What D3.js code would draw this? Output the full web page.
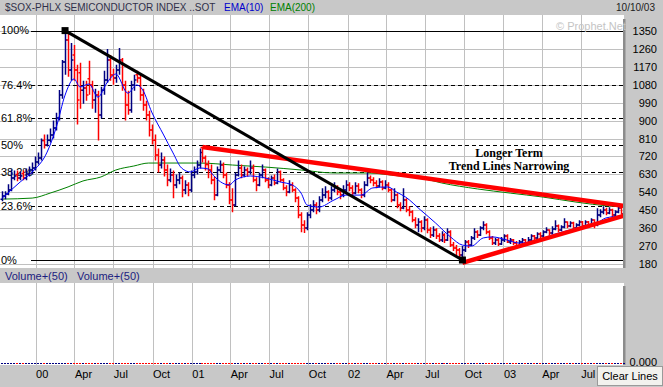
<!DOCTYPE html>
<html>
<head>
<meta charset="utf-8">
<script src="https://cdn.jsdelivr.net/npm/d3@7"></script>
<style>
  body { margin: 0; background: #c8c8c8; }
  svg { display: block; font-family: Arial, "Liberation Sans", sans-serif; }
</style>
</head>
<body>
<svg width="663" height="387"></svg>
<script>
// weekly bars, one per friday from 15 Oct 1999 to 10 Oct 2003
const weekOpen = [
  505, 521, 531, 551, 612, 630, 612, 635, 612, 632,
  652, 662, 692, 712, 800, 777, 802, 828, 863, 913,
  1028, 1194, 1305, 1154, 1230, 1154, 1140, 1053, 1064, 1110,
  1079, 1003, 1028, 928, 1053, 1104, 1204, 1129, 1114, 1154,
  1204, 1079, 978, 953, 1079, 1130, 1114, 1028, 978, 928,
  853, 802, 727, 677, 702, 652, 602, 627, 577, 602,
  612, 551, 577, 551, 627, 642, 677, 765, 712, 680,
  652, 602, 526, 652, 677, 627, 577, 501, 476, 627,
  662, 627, 652, 642, 662, 602, 577, 627, 652, 602,
  577, 612, 587, 642, 602, 562, 541, 577, 551, 511,
  426, 376, 361, 426, 451, 476, 451, 501, 526, 541,
  511, 551, 562, 541, 526, 551, 577, 562, 536, 572,
  551, 526, 577, 612, 602, 587, 572, 592, 562, 577,
  551, 501, 526, 476, 461, 501, 451, 441, 401, 376,
  391, 361, 401, 351, 326, 351, 321, 300, 326, 300,
  341, 275, 260, 250, 225, 250, 290, 275, 311, 341,
  326, 361, 376, 341, 311, 285, 300, 280, 300, 321,
  290, 300, 285, 270, 290, 300, 280, 300, 321, 311,
  331, 321, 341, 351, 336, 356, 371, 351, 366, 391,
  371, 386, 361, 376, 391, 371, 391, 376, 401, 375,
  426, 441, 451, 436, 451, 426, 441, 461, 431
];
const weekHigh = [
  545, 545, 580, 655, 650, 650, 645, 650, 660, 670,
  690, 720, 740, 810, 830, 830, 860, 900, 940, 1054,
  1204, 1355, 1345, 1290, 1280, 1180, 1190, 1100, 1100, 1200,
  1100, 1060, 1050, 1070, 1150, 1260, 1230, 1160, 1180, 1265,
  1215, 1100, 1050, 1100, 1130, 1150, 1130, 1060, 1000, 950,
  880, 830, 760, 740, 720, 680, 660, 650, 630, 640,
  625, 600, 590, 650, 670, 700, 760, 770, 725, 700,
  680, 620, 670, 700, 690, 640, 590, 560, 640, 700,
  680, 670, 665, 700, 680, 615, 640, 680, 660, 615,
  625, 630, 660, 650, 610, 575, 600, 590, 560, 520,
  440, 400, 440, 480, 500, 490, 520, 560, 570, 550,
  570, 590, 575, 555, 575, 600, 590, 575, 590, 585,
  560, 595, 640, 625, 615, 600, 610, 600, 600, 590,
  560, 560, 535, 490, 560, 510, 470, 450, 415, 410,
  400, 420, 410, 365, 370, 360, 335, 345, 335, 360,
  350, 290, 275, 260, 270, 300, 300, 320, 360, 350,
  370, 395, 385, 350, 320, 310, 310, 315, 330, 330,
  310, 305, 295, 300, 310, 305, 315, 330, 325, 340,
  340, 350, 365, 355, 370, 400, 378, 375, 410, 395,
  395, 392, 385, 400, 396, 400, 396, 410, 405, 460,
  455, 470, 462, 465, 458, 450, 470, 466, 460
];
const weekLow = [
  495, 505, 525, 545, 600, 595, 600, 600, 600, 620,
  630, 650, 680, 700, 760, 770, 790, 810, 850, 900,
  1010, 1130, 1120, 1100, 1100, 880, 960, 985, 1000, 1030,
  960, 940, 800, 910, 1030, 1090, 1100, 1080, 1090, 1130,
  1050, 900, 930, 940, 1050, 1090, 1000, 950, 900, 820,
  780, 700, 640, 660, 620, 570, 590, 510, 560, 580,
  515, 530, 520, 540, 610, 630, 660, 690, 650, 610,
  580, 500, 520, 640, 610, 560, 480, 440, 470, 620,
  610, 615, 620, 630, 590, 545, 570, 610, 590, 560,
  570, 575, 580, 590, 550, 520, 535, 540, 490, 410,
  340, 336, 350, 410, 440, 430, 440, 490, 510, 495,
  500, 540, 525, 505, 515, 540, 545, 520, 530, 535,
  510, 515, 570, 585, 570, 560, 565, 550, 555, 540,
  490, 495, 460, 445, 455, 440, 420, 390, 360, 340,
  340, 350, 335, 310, 315, 305, 290, 290, 285, 295,
  265, 245, 225, 205, 200, 240, 260, 270, 300, 310,
  320, 350, 330, 300, 275, 275, 270, 275, 290, 285,
  280, 275, 260, 265, 280, 272, 275, 295, 300, 305,
  310, 315, 335, 325, 330, 350, 340, 345, 360, 360,
  365, 350, 355, 370, 362, 365, 368, 372, 360, 370,
  415, 430, 425, 430, 415, 420, 435, 430, 425
];
const weekClose = [
  521, 531, 551, 612, 622, 612, 622, 612, 632, 652,
  662, 692, 712, 800, 777, 802, 828, 863, 913, 1028,
  1194, 1305, 1154, 1204, 1154, 1003, 1053, 1064, 1028, 1079,
  1003, 1028, 928, 1053, 1104, 1204, 1129, 1114, 1154, 1204,
  1079, 978, 953, 1079, 1104, 1114, 1028, 978, 928, 853,
  802, 727, 677, 702, 652, 602, 627, 577, 602, 612,
  551, 577, 551, 627, 642, 677, 740, 712, 680, 652,
  602, 526, 652, 677, 627, 577, 501, 476, 627, 662,
  627, 652, 642, 662, 602, 577, 627, 652, 602, 577,
  612, 587, 642, 602, 562, 541, 577, 551, 511, 426,
  376, 361, 426, 451, 476, 451, 501, 526, 541, 511,
  551, 562, 541, 526, 551, 577, 562, 536, 572, 551,
  526, 577, 612, 602, 587, 572, 592, 562, 577, 551,
  501, 526, 476, 461, 501, 451, 441, 401, 376, 391,
  361, 401, 351, 326, 351, 321, 300, 326, 300, 341,
  275, 260, 250, 225, 250, 290, 275, 311, 341, 326,
  361, 376, 341, 311, 285, 300, 280, 300, 321, 290,
  300, 285, 270, 290, 300, 280, 300, 321, 311, 331,
  321, 341, 351, 336, 356, 371, 351, 366, 391, 371,
  386, 361, 376, 391, 371, 391, 376, 401, 375, 426,
  441, 451, 436, 451, 426, 441, 461, 431, 451
];

// moving averages (week index -> value)
const ema10Week = [0, 6, 10, 15, 18, 21, 24, 26, 29, 32, 35, 38, 42, 45, 47, 50, 54, 57, 60, 63,
  66, 69, 70, 76, 78, 83, 88, 93, 97, 100, 102, 106, 111, 115, 120, 124, 129, 132, 135, 140,
  145, 150, 154, 157, 161, 164, 169, 173, 179, 184, 190, 196, 199, 202, 207];
const ema10Value = [511, 592, 642, 742, 863, 1028, 1109, 1069, 1084, 1018, 1089, 1134, 1038, 1079, 1054, 943, 828, 742, 662, 642,
  662, 657, 637, 577, 602, 622, 612, 592, 577, 536, 476, 466, 501, 526, 526, 562, 567, 541, 516, 451,
  386, 316, 275, 270, 311, 316, 300, 285, 300, 326, 351, 376, 386, 411, 421];
const ema200Week = [0, 10, 16, 22, 27, 33, 38, 44, 49, 66, 77, 88, 100, 111, 122, 133, 140, 147, 159, 170, 181, 192, 203, 208];
const ema200Value = [506, 511, 536, 567, 597, 617, 652, 672, 687, 687, 677, 667, 652, 637, 637, 622, 612, 587, 557, 536, 516, 491, 471, 466];

const priceTicks = [180, 270, 360, 450, 540, 630, 720, 810, 900, 990, 1080, 1170, 1260, 1350];
const fibLabels = ['100%', '76.4%', '61.8%', '50%', '38.2%', '23.6%', '0%'];
const fibPrices = [1352, 1080, 912, 776, 640, 472, 200];

// trend lines drawn on the chart: [week index, price]
const trendBlack = [[21, 1352], [154, 200]];
const trendTop = [[67, 767], [208, 472]];
const trendBottom = [[154, 186], [208, 422]];

const svg = d3.select('svg');
const weeks = d3.timeFriday.range(new Date(1999, 9, 15), new Date(2003, 9, 11));
const x = d3.scaleTime().domain([new Date(2000, 0, 1), new Date(2003, 0, 1)]).range([35.6, 503.4]);
const y = d3.scaleLinear().domain([180, 1350]).range([264, 31]);
const px = function (i) { return x(weeks[i]); };
const quarters = d3.timeMonth.every(3).range(new Date(2000, 0, 1), new Date(2003, 9, 1));

const bars = weeks.map(function (d, i) {
  return { i: i, o: weekOpen[i], h: weekHigh[i], l: weekLow[i], c: weekClose[i] };
});

// panels
svg.append('rect').attr('x', 0).attr('y', 15).attr('width', 624).attr('height', 253).attr('fill', '#fff');
svg.append('rect').attr('x', 0).attr('y', 283).attr('width', 624).attr('height', 82).attr('fill', '#fff');
svg.append('rect').attr('x', 623).attr('y', 19).attr('width', 2.5).attr('height', 249).attr('fill', '#8c8c8c');
svg.append('rect').attr('x', 623).attr('y', 286).attr('width', 2.5).attr('height', 79).attr('fill', '#8c8c8c');

svg.append('defs').append('clipPath').attr('id', 'clip')
  .append('rect').attr('x', 0).attr('y', 15).attr('width', 623).attr('height', 253);

const grid = svg.append('g').attr('stroke', '#c0c0c0').attr('shape-rendering', 'crispEdges');
grid.selectAll('.hgrid').data(priceTicks).enter().append('line')
  .attr('x1', 0).attr('x2', 623)
  .attr('y1', function (d) { return Math.round(y(d)) + 0.5; })
  .attr('y2', function (d) { return Math.round(y(d)) + 0.5; });
grid.selectAll('.vgrid').data(quarters).enter().append('line')
  .attr('x1', function (d) { return Math.round(x(d)) + 0.5; })
  .attr('x2', function (d) { return Math.round(x(d)) + 0.5; })
  .attr('y1', 15).attr('y2', 268);
grid.selectAll('.vgrid2').data(quarters).enter().append('line')
  .attr('x1', function (d) { return Math.round(x(d)) + 0.5; })
  .attr('x2', function (d) { return Math.round(x(d)) + 0.5; })
  .attr('y1', 283).attr('y2', 365);

// retracement levels
svg.append('g').selectAll('line').data(fibPrices).enter().append('line')
  .attr('x1', 31).attr('x2', 623)
  .attr('y1', function (d) { return Math.round(y(d)) + 0.5; })
  .attr('y2', function (d) { return Math.round(y(d)) + 0.5; })
  .attr('stroke', '#000')
  .attr('shape-rendering', 'crispEdges')
  .attr('stroke-dasharray', function (d, i) { return (i === 0 || i === fibPrices.length - 1) ? null : '4,3'; });
svg.append('g').selectAll('text').data(fibLabels).enter().append('text')
  .attr('x', 1)
  .attr('y', function (d, i) { return y(fibPrices[i]); })
  .attr('dy', '0.35em')
  .attr('font-size', 11)
  .attr('fill', '#000')
  .text(function (d) { return d; });

const plot = svg.append('g').attr('clip-path', 'url(#clip)');

// moving averages
const line = d3.line()
  .x(function (d) { return px(d[0]); })
  .y(function (d) { return y(d[1]); })
  .curve(d3.curveMonotoneX);
plot.append('path')
  .attr('d', line(ema200Week.map(function (w, k) { return [w, ema200Value[k]]; })))
  .attr('fill', 'none').attr('stroke', '#008000').attr('stroke-width', 1);

// OHLC bars
plot.selectAll('.bar').data(bars).enter().append('path')
  .attr('class', 'bar')
  .attr('d', function (d) {
    const cx = Math.round(px(d.i)) + 0.5;
    return 'M' + cx + ',' + y(d.h) + 'V' + y(d.l) +
      'M' + (cx - 2) + ',' + y(d.o) + 'H' + cx +
      'M' + cx + ',' + y(d.c) + 'H' + (cx + 2);
  })
  .attr('fill', 'none')
  .attr('stroke-width', 1.5)
  .attr('stroke', function (d) { return d.c >= d.o ? '#000080' : '#ff0000'; });

plot.append('path')
  .attr('d', line(ema10Week.map(function (w, k) { return [w, ema10Value[k]]; })))
  .attr('fill', 'none').attr('stroke', '#0000ff').attr('stroke-width', 1);

// trend lines
function trend (pts, color, width) {
  plot.append('line')
    .attr('x1', px(pts[0][0])).attr('y1', y(pts[0][1]))
    .attr('x2', px(pts[1][0])).attr('y2', y(pts[1][1]))
    .attr('stroke', color).attr('stroke-width', width);
}
trend(trendTop, '#ff0000', 4.5);
trend(trendBottom, '#ff0000', 4.5);
trend(trendBlack, '#000', 3);
plot.selectAll('.marker').data(trendBlack).enter().append('rect')
  .attr('x', function (d) { return px(d[0]) - 3.5; })
  .attr('y', function (d) { return y(d[1]) - 3.5; })
  .attr('width', 7).attr('height', 7).attr('fill', '#000');

// note
const note = svg.append('g')
  .attr('font-family', '"Liberation Serif", "Times New Roman", serif')
  .attr('font-weight', 'bold').attr('font-size', 12)
  .attr('text-anchor', 'middle');
note.append('text').attr('x', 509).attr('y', 157).text('Longer Term');
note.append('text').attr('x', 509).attr('y', 170).text('Trend Lines Narrowing');

svg.append('text').attr('x', 556).attr('y', 30).attr('font-size', 11)
  .attr('fill', '#c4c4c4').text('\u00a9 Prophet.Net');

// volume panel: index has no volume, only a baseline of dots
svg.append('g').selectAll('rect').data(bars).enter().append('rect')
  .attr('x', function (d) { return Math.round(px(d.i)) - 1; })
  .attr('y', 363).attr('width', 2).attr('height', 1)
  .attr('fill', function (d) { return d.c >= d.o ? '#000080' : '#ff0000'; });

// header
const head = svg.append('g').attr('font-size', 10);
head.append('text').attr('x', 5).attr('y', 11).attr('fill', '#30304a').text('$SOX-PHLX SEMICONDUCTOR INDEX ..SOT');
head.append('text').attr('x', 224).attr('y', 11).attr('fill', '#0000cc').text('EMA(10)');
head.append('text').attr('x', 270).attr('y', 11).attr('fill', '#008000').text('EMA(200)');
head.append('text').attr('x', 655).attr('y', 11).attr('text-anchor', 'end').attr('fill', '#202020').text('10/10/03');

const vol = svg.append('g').attr('font-size', 11).attr('fill', '#1c1c80');
vol.append('text').attr('x', 5).attr('y', 279.5).text('Volume+(50)');
vol.append('text').attr('x', 77).attr('y', 279.5).text('Volume+(50)');

// right price axis
const yAxis = svg.append('g').attr('transform', 'translate(657,0)')
  .call(d3.axisRight(y).tickValues(priceTicks).tickSize(0).tickPadding(0).tickFormat(d3.format('d')));
yAxis.select('.domain').remove();
yAxis.selectAll('text').attr('text-anchor', 'end').attr('font-size', 11).attr('fill', '#000')
  .attr('font-family', 'Arial, "Liberation Sans", sans-serif');

svg.append('text').attr('x', 657).attr('y', 366).attr('text-anchor', 'end')
  .attr('font-size', 11).text('0.000');

// bottom date axis
const xAxis = svg.append('g').attr('transform', 'translate(0,370)')
  .call(d3.axisBottom(x).tickValues(quarters).tickSize(0).tickPadding(0)
    .tickFormat(function (d) { return d.getMonth() === 0 ? d3.timeFormat('%y')(d) : d3.timeFormat('%b')(d); }));
xAxis.select('.domain').remove();
xAxis.selectAll('text').attr('text-anchor', 'start').attr('font-size', 11).attr('fill', '#000')
  .attr('font-family', 'Arial, "Liberation Sans", sans-serif');

// clear lines button
svg.append('rect').attr('x', 597.5).attr('y', 366.5).attr('width', 65).attr('height', 19)
  .attr('fill', '#f2f2ee').attr('stroke', '#9a9a9a');
svg.append('text').attr('x', 630).attr('y', 380).attr('text-anchor', 'middle')
  .attr('font-size', 11).text('Clear Lines');
</script>
</body>
</html>
